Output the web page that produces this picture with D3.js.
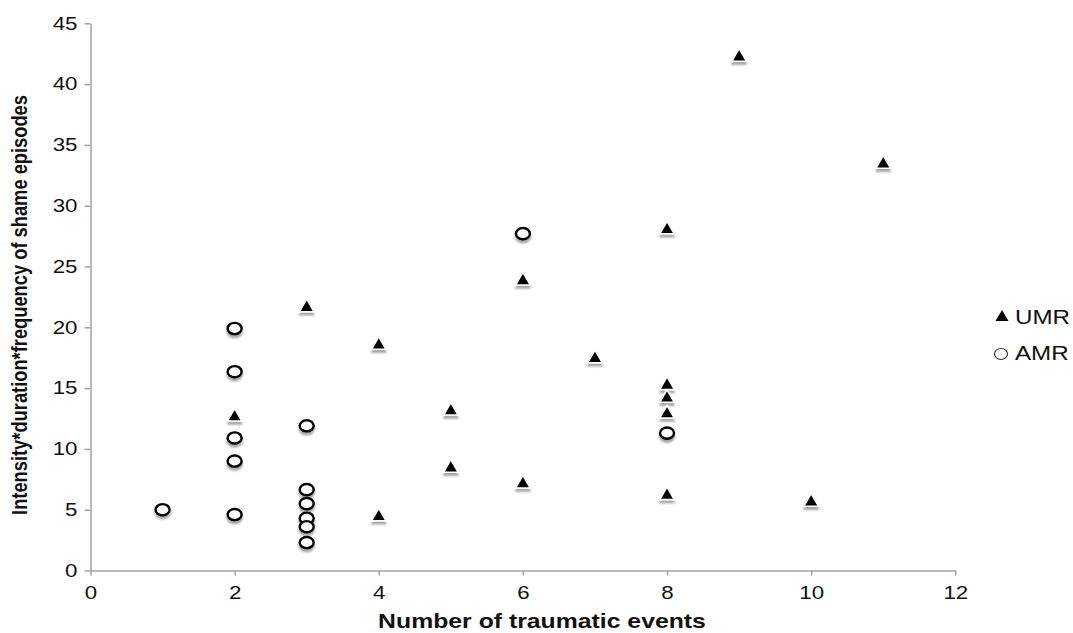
<!DOCTYPE html>
<html>
<head>
<meta charset="utf-8">
<script src="https://cdn.jsdelivr.net/npm/d3@7"></script>
<style>
  body { margin: 0; background: #fff; }
  svg { display: block; font-family: "Liberation Sans", Arial, Helvetica, sans-serif; }
</style>
</head>
<body>
<svg id="chart" width="1073" height="633"></svg>
<script>
// values
var umrX = [9, 11, 8, 6, 3, 4, 7, 8, 8, 8, 5, 2, 5, 6, 8, 10, 4];
var umrY = [42.4, 33.6, 28.2, 24.0, 21.8, 18.7, 17.6, 15.4, 14.35, 13.05, 13.3, 12.8, 8.6, 7.3, 6.35, 5.8, 4.6];
var amrX = [6, 2, 2, 2, 2, 1, 2, 3, 3, 3, 3, 3, 3, 8];
var amrY = [27.7, 19.9, 16.35, 10.9, 9.0, 5.0, 4.6, 11.9, 6.65, 5.5, 4.3, 3.6, 2.3, 11.3];
var xTicks = [0, 2, 4, 6, 8, 10, 12];
var yTicks = [0, 5, 10, 15, 20, 25, 30, 35, 40, 45];
var seriesNames = ["UMR", "AMR"];
var xTitle = "Number of traumatic events";
var yTitle = "Intensity*duration*frequency of shame episodes";

var SX = 1.24; // the original picture is stretched sideways
var axisColor = "#a3a3a3";

var svg = d3.select("#chart");

var defs = svg.append("defs");
var f = defs.append("filter").attr("id", "shadow")
  .attr("x", "-50%").attr("y", "-50%").attr("width", "200%").attr("height", "220%");
f.append("feDropShadow").attr("dx", 0).attr("dy", 3).attr("stdDeviation", 1.3)
  .attr("flood-color", "#000").attr("flood-opacity", 0.35);

var x = d3.scaleLinear().domain([0, 12]).range([90.5, 955.3]);
var y = d3.scaleLinear().domain([0, 45]).range([570.5, 23.3]);

// axes
var gx = svg.append("g").attr("transform", "translate(0," + y(0) + ")")
  .call(d3.axisBottom(x).tickValues(xTicks).tickSize(5).tickSizeOuter(0));
gx.selectAll("text").attr("y", 28.5).attr("dy", 0)
  .attr("transform", "scale(" + SX + ",1)");

var gy = svg.append("g").attr("transform", "translate(" + x(0) + ",0)")
  .call(d3.axisLeft(y).tickValues(yTicks).tickSize(6).tickSizeOuter(0));
gy.selectAll("text").attr("x", -13 / SX).attr("dy", "0.32em")
  .attr("transform", "scale(" + SX + ",1)");

svg.selectAll(".domain, .tick line").attr("stroke", axisColor).attr("stroke-width", 1.5);
svg.selectAll(".tick text").attr("font-size", 18).attr("fill", "#111")
  .style("font-family", "'Liberation Sans', Arial, sans-serif");

// axis titles
svg.append("text")
  .attr("transform", "translate(542,628) scale(" + SX + ",1)")
  .attr("text-anchor", "middle").attr("font-weight", "bold").attr("font-size", 20)
  .attr("fill", "#111").text(xTitle);

svg.append("text")
  .attr("transform", "translate(27,305) scale(" + SX + ",1) rotate(-90)")
  .attr("text-anchor", "middle").attr("font-weight", "bold").attr("font-size", 18.3)
  .attr("fill", "#111").text(yTitle);

// markers
var tri = function (w, h) {
  return "M0," + (-h / 2) + "L" + (w / 2) + "," + (h / 2) + "L" + (-w / 2) + "," + (h / 2) + "Z";
};

var amr = amrX.map(function (d, i) { return { x: d, y: amrY[i] }; });
var umr = umrX.map(function (d, i) { return { x: d, y: umrY[i] }; });

svg.append("g").attr("filter", "url(#shadow)")
  .selectAll("ellipse").data(amr).enter().append("ellipse")
  .attr("cx", function (d) { return x(d.x); })
  .attr("cy", function (d) { return y(d.y); })
  .attr("rx", 7).attr("ry", 5.6)
  .attr("fill", "#fff").attr("stroke", "#000").attr("stroke-width", 2.4);

svg.append("g").attr("filter", "url(#shadow)")
  .selectAll("path").data(umr).enter().append("path")
  .attr("transform", function (d) { return "translate(" + x(d.x) + "," + y(d.y) + ")"; })
  .attr("d", tri(14.5, 12.5))
  .attr("fill", "#000").attr("stroke", "#fff").attr("stroke-width", 1.5)
  .attr("stroke-linejoin", "round");

// legend
var lg = svg.append("g");
lg.append("path").attr("transform", "translate(1002,315.5)").attr("d", tri(13, 11)).attr("fill", "#000");
lg.append("ellipse").attr("cx", 1001).attr("cy", 354).attr("rx", 6.5).attr("ry", 5.5)
  .attr("fill", "#fff").attr("stroke", "#333").attr("stroke-width", 1.2);
lg.selectAll("text").data(seriesNames).enter().append("text")
  .attr("transform", function (d, i) { return "translate(1015," + (324 + i * 36) + ") scale(" + SX + ",1)"; })
  .attr("font-size", 19.5).attr("fill", "#111").text(function (d) { return d; });
</script>
</body>
</html>
